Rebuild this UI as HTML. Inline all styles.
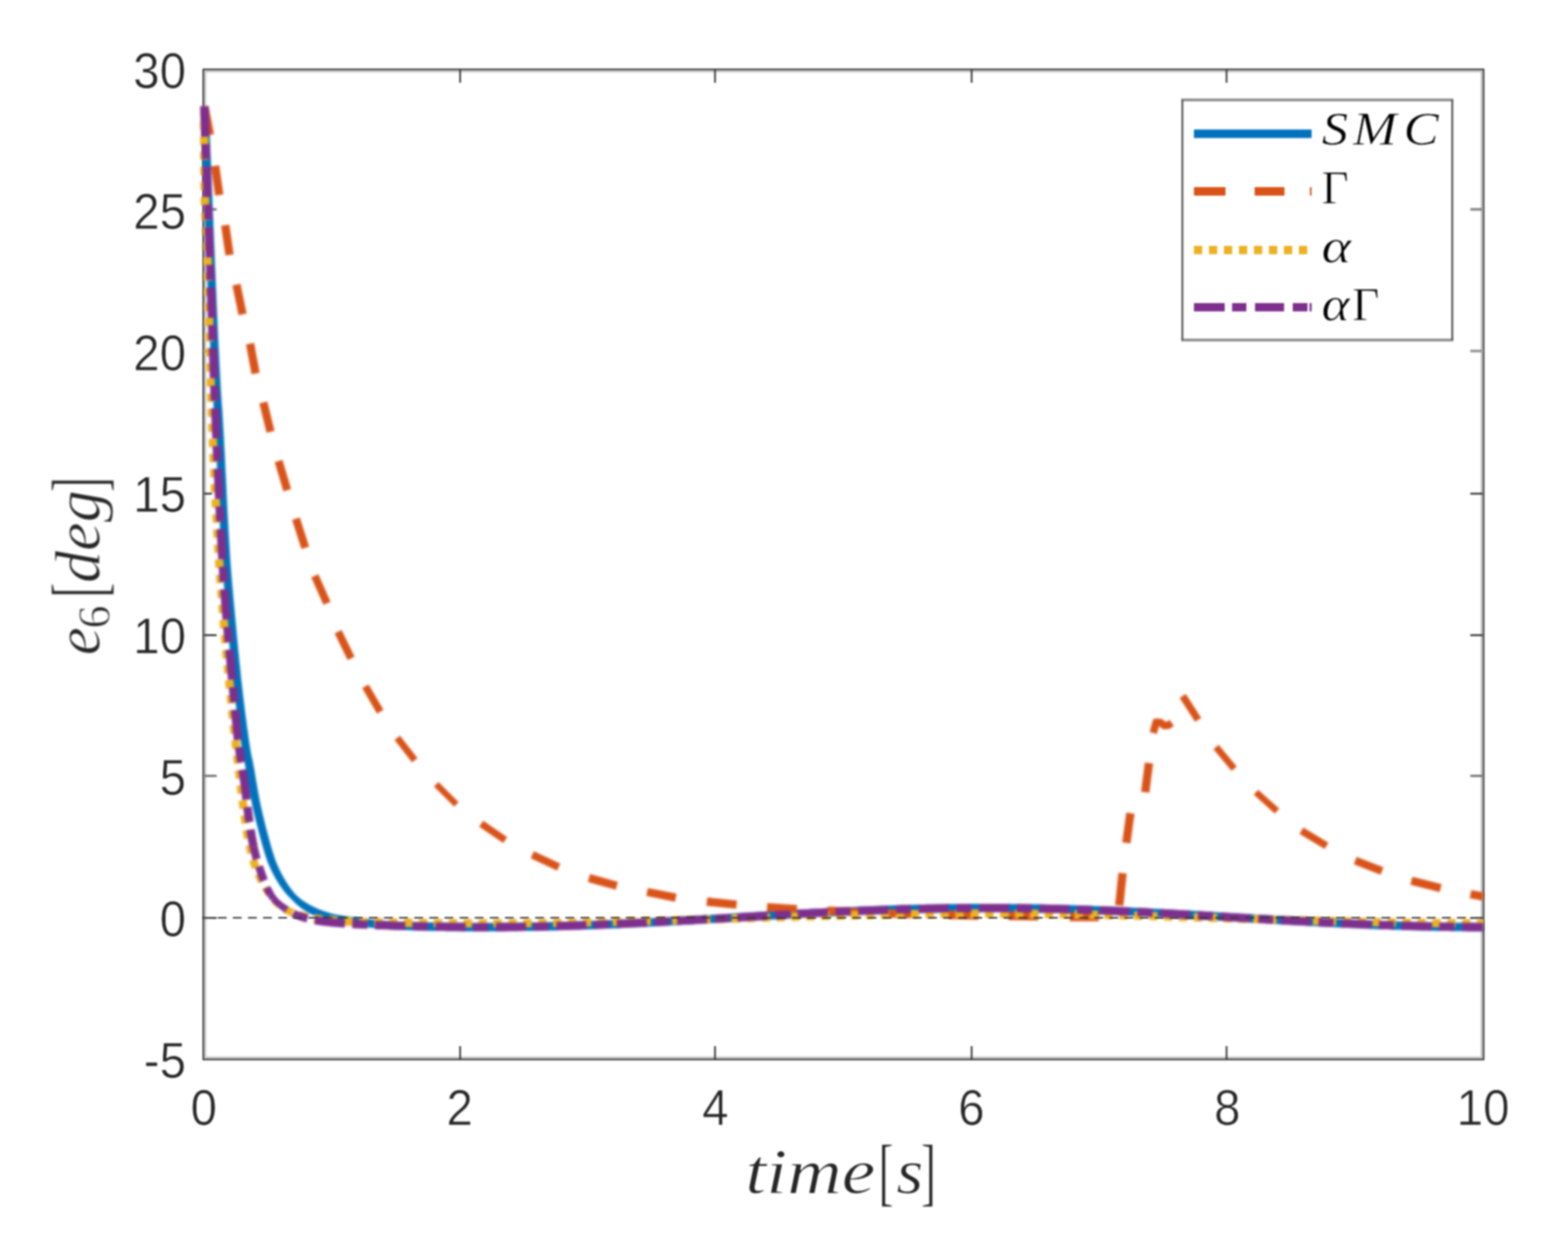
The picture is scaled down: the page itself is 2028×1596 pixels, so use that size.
<!DOCTYPE html>
<html lang="en"><head><meta charset="utf-8"><title>e6 tracking error</title>
<style>
html,body{margin:0;padding:0;background:#fff;}
body{width:2028px;height:1596px;overflow:hidden;}
svg{display:block;}
</style></head><body>
<svg width="2028" height="1596" viewBox="0 0 2028 1596">
<defs>
<filter id="soft" x="0" y="0" width="2028" height="1596" filterUnits="userSpaceOnUse" color-interpolation-filters="sRGB"><feGaussianBlur stdDeviation="1.25"/></filter>
<filter id="soft2" x="0" y="0" width="2028" height="1596" filterUnits="userSpaceOnUse" color-interpolation-filters="sRGB"><feGaussianBlur stdDeviation="1.0"/></filter>
<filter id="crisp" x="0" y="0" width="2028" height="1596" filterUnits="userSpaceOnUse" color-interpolation-filters="sRGB"><feGaussianBlur stdDeviation="0.9"/></filter>
<clipPath id="ax"><rect x="255.0" y="89.8" width="1663.8" height="1280.4"/></clipPath>
</defs>
<rect width="2028" height="1596" fill="#fff"/>
<g id="axes-halo" filter="url(#soft)" fill="none">
<rect x="265.3" y="92.1" width="1651.2" height="1275.8" stroke="#c8c8c8" stroke-width="3.0"/>
</g>
<g id="axes" filter="url(#crisp)" fill="none">
<rect x="263.0" y="89.8" width="1655.8" height="1280.4" stroke="#363636" stroke-width="2.1"/>
<path d="M595.1,1370.2 v-17.2 M595.1,89.8 v17.2" stroke="#363636" stroke-width="2.2"/>
<path d="M924.8,1370.2 v-17.2 M924.8,89.8 v17.2" stroke="#363636" stroke-width="2.2"/>
<path d="M1256.7,1370.2 v-17.2 M1256.7,89.8 v17.2" stroke="#363636" stroke-width="2.2"/>
<path d="M1586.4,1370.2 v-17.2 M1586.4,89.8 v17.2" stroke="#363636" stroke-width="2.2"/>
</g>
<g id="plot" filter="url(#soft)">
<g id="yticks-soft" fill="none">
<path d="M263.0,270.7 h17.2 M1918.8,270.7 h-17.2" stroke="#8a8a8a" stroke-width="3.4"/>
<path d="M263.0,454.0 h17.2 M1918.8,454.0 h-17.2" stroke="#969696" stroke-width="3.6"/>
<path d="M263.0,1003.5 h17.2 M1918.8,1003.5 h-17.2" stroke="#7a7a7a" stroke-width="3.0"/>
</g>
<g id="curves-soft" filter="url(#soft2)">
<g id="curves" clip-path="url(#ax)" fill="none" stroke-width="10.8" stroke-linejoin="round">
<path d="M269.8,137.5 L270.1,144.0 L270.4,150.4 L270.6,156.9 L270.9,163.4 L271.2,169.9 L271.4,176.3 L271.7,182.8 L272.0,189.3 L272.2,195.8 L272.5,202.2 L272.8,208.7 L273.0,215.2 L273.3,221.7 L273.5,228.1 L273.8,234.6 L274.0,241.1 L274.3,247.5 L274.6,254.0 L274.8,260.5 L275.1,267.0 L275.3,273.4 L275.6,279.9 L275.9,286.4 L276.1,292.9 L276.4,299.3 L276.7,305.8 L276.9,312.3 L277.2,318.8 L277.5,325.2 L277.7,331.7 L278.0,338.2 L278.2,344.7 L278.5,351.1 L278.8,357.6 L279.0,364.1 L279.3,370.5 L279.6,377.0 L279.9,383.5 L280.1,390.0 L280.4,396.4 L280.7,402.9 L281.0,409.4 L281.3,415.9 L281.5,422.3 L281.8,428.8 L282.1,435.3 L282.4,441.7 L282.7,448.2 L283.1,454.7 L283.4,461.2 L283.7,467.6 L284.0,474.1 L284.4,480.6 L284.7,487.0 L285.1,493.5 L285.4,500.0 L285.8,506.4 L286.2,512.9 L286.6,519.4 L287.1,525.8 L287.6,532.3 L288.0,538.8 L288.4,545.2 L288.7,551.7 L289.1,558.2 L289.5,564.6 L289.8,571.1 L290.1,577.6 L290.5,584.0 L290.8,590.5 L291.1,597.0 L291.4,603.5 L291.7,609.9 L292.1,616.4 L292.4,622.9 L292.7,629.3 L293.0,635.8 L293.3,642.3 L293.6,648.8 L293.9,655.2 L294.2,661.7 L294.6,668.2 L294.9,674.6 L295.3,681.1 L295.6,687.6 L296.0,694.1 L296.4,700.5 L296.8,707.0 L297.2,713.4 L297.6,719.9 L298.0,726.4 L298.5,732.8 L299.0,739.3 L299.5,745.8 L300.1,752.2 L300.6,758.7 L301.2,765.1 L301.7,771.6 L302.3,778.0 L302.9,784.5 L303.5,790.9 L304.1,797.4 L304.7,803.8 L305.3,810.3 L305.9,816.8 L306.5,823.2 L307.1,829.7 L307.7,836.1 L308.3,842.6 L309.0,849.0 L309.6,855.5 L310.3,862.0 L311.0,868.4 L311.6,874.9 L312.3,881.3 L313.1,887.7 L313.8,894.2 L314.5,900.6 L315.3,907.1 L316.1,913.5 L316.9,919.9 L317.7,926.3 L318.6,932.8 L319.4,939.2 L320.3,945.6 L321.2,952.0 L322.1,958.4 L323.1,964.8 L324.1,971.2 L325.3,977.5 L326.7,983.9 L327.9,990.2 L329.1,996.6 L330.2,1003.0 L331.2,1009.4 L332.3,1015.8 L333.4,1022.2 L334.6,1028.5 L335.8,1034.9 L337.1,1041.2 L338.5,1047.6 L340.0,1053.9 L341.5,1060.2 L343.0,1066.5 L344.6,1072.8 L346.3,1079.0 L348.0,1085.3 L349.7,1091.5 L351.5,1097.8 L353.4,1104.0 L355.4,1110.2 L357.7,1116.2 L360.2,1122.1 L363.0,1128.0 L366.1,1133.8 L369.5,1139.4 L373.0,1144.9 L376.7,1150.1 L380.8,1155.2 L385.3,1160.0 L384.2,1158.7 L389.2,1162.9 L394.6,1166.7 L400.1,1170.1 L405.9,1173.1 L411.8,1175.7 L417.9,1178.0 L424.1,1180.1 L430.3,1181.9 L436.6,1183.2 L443.0,1184.3 L449.4,1185.3 L455.9,1186.1 L462.3,1186.9 L468.7,1187.7 L475.2,1188.5 L481.6,1189.3 L488.1,1190.0 L494.5,1190.6 L501.0,1191.2 L507.4,1191.7 L513.9,1192.0 L520.4,1192.1 L526.8,1192.3 L533.3,1192.5 L539.8,1192.6 L546.3,1192.8 L552.7,1192.9 L559.2,1193.1 L565.7,1193.2 L572.2,1193.3 L578.7,1193.4 L585.1,1193.5 L591.6,1193.5 L598.1,1193.6 L604.6,1193.6 L611.1,1193.7 L617.5,1193.7 L624.0,1193.7 L630.5,1193.7 L637.0,1193.7 L643.4,1193.6 L649.9,1193.6 L656.4,1193.5 L662.9,1193.5 L669.4,1193.4 L675.8,1193.3 L682.3,1193.2 L688.8,1193.1 L695.3,1193.0 L701.7,1192.9 L708.2,1192.7 L714.7,1192.6 L721.2,1192.4 L727.7,1192.2 L734.1,1192.0 L740.6,1191.8 L747.1,1191.6 L753.6,1191.4 L760.0,1191.2 L766.5,1190.9 L773.0,1190.7 L779.5,1190.4 L785.9,1190.1 L792.4,1189.9 L798.9,1189.6 L805.3,1189.3 L811.8,1189.0 L818.3,1188.7 L824.8,1188.4 L831.2,1188.1 L837.7,1187.7 L844.2,1187.4 L850.6,1187.1 L857.1,1186.7 L863.6,1186.4 L870.0,1186.0 L876.5,1185.6 L883.0,1185.3 L889.5,1184.9 L895.9,1184.5 L902.4,1184.2 L908.9,1183.8 L915.3,1183.4 L921.8,1183.0 L928.3,1182.7 L934.7,1182.3 L941.2,1181.9 L947.7,1181.5 L954.1,1181.1 L960.6,1180.7 L967.1,1180.3 L973.5,1180.0 L980.0,1179.6 L986.5,1179.2 L992.9,1178.8 L999.4,1178.4 L1005.9,1178.1 L1012.3,1177.7 L1018.8,1177.3 L1025.3,1177.0 L1031.7,1176.6 L1038.2,1176.2 L1044.7,1175.9 L1051.2,1175.6 L1057.6,1175.2 L1064.1,1174.9 L1070.6,1174.6 L1077.0,1174.2 L1083.5,1173.9 L1090.0,1173.6 L1096.4,1173.3 L1102.9,1173.0 L1109.4,1172.8 L1115.9,1172.5 L1122.3,1172.2 L1128.8,1172.0 L1135.3,1171.7 L1141.8,1171.5 L1148.2,1171.3 L1154.7,1171.0 L1161.2,1170.8 L1167.7,1170.6 L1174.1,1170.4 L1180.6,1170.3 L1187.1,1170.1 L1193.6,1169.9 L1200.0,1169.8 L1206.5,1169.7 L1213.0,1169.6 L1219.5,1169.4 L1226.0,1169.3 L1232.4,1169.3 L1238.9,1169.2 L1245.4,1169.1 L1251.9,1169.1 L1258.3,1169.0 L1264.8,1169.0 L1271.3,1169.0 L1277.8,1169.0 L1284.3,1169.0 L1290.7,1169.0 L1297.2,1169.1 L1303.7,1169.1 L1310.2,1169.2 L1316.7,1169.2 L1323.1,1169.3 L1329.6,1169.4 L1336.1,1169.5 L1342.6,1169.6 L1349.0,1169.8 L1355.5,1169.9 L1362.0,1170.1 L1368.5,1170.2 L1375.0,1170.4 L1381.4,1170.6 L1387.9,1170.8 L1394.4,1171.0 L1400.9,1171.2 L1407.3,1171.4 L1413.8,1171.7 L1420.3,1171.9 L1426.8,1172.2 L1433.2,1172.4 L1439.7,1172.7 L1446.2,1173.0 L1452.6,1173.3 L1459.1,1173.6 L1465.6,1173.9 L1472.1,1174.2 L1478.5,1174.5 L1485.0,1174.8 L1491.5,1175.2 L1497.9,1175.5 L1504.4,1175.8 L1510.9,1176.2 L1517.3,1176.5 L1523.8,1176.9 L1530.3,1177.3 L1536.8,1177.6 L1543.2,1178.0 L1549.7,1178.4 L1556.2,1178.7 L1562.6,1179.1 L1569.1,1179.5 L1575.6,1179.9 L1582.0,1180.3 L1588.5,1180.7 L1595.0,1181.0 L1601.4,1181.4 L1607.9,1181.8 L1614.4,1182.2 L1620.8,1182.6 L1627.3,1183.0 L1633.8,1183.3 L1640.2,1183.7 L1646.7,1184.1 L1653.2,1184.5 L1659.6,1184.8 L1666.1,1185.2 L1672.6,1185.6 L1679.0,1185.9 L1685.5,1186.3 L1692.0,1186.6 L1698.4,1187.0 L1704.9,1187.3 L1711.4,1187.7 L1717.9,1188.0 L1724.3,1188.3 L1730.8,1188.6 L1737.3,1188.9 L1743.7,1189.2 L1750.2,1189.5 L1756.7,1189.8 L1763.2,1190.1 L1769.6,1190.4 L1776.1,1190.6 L1782.6,1190.9 L1789.1,1191.1 L1795.5,1191.3 L1802.0,1191.6 L1808.5,1191.8 L1815.0,1192.0 L1821.4,1192.2 L1827.9,1192.4 L1834.4,1192.5 L1840.9,1192.7 L1847.3,1192.8 L1853.8,1193.0 L1860.3,1193.1 L1866.8,1193.2 L1873.3,1193.3 L1879.7,1193.4 L1886.2,1193.5 L1892.7,1193.5 L1899.2,1193.6 L1905.6,1193.6 L1912.1,1193.7 L1918.6,1193.7 L1918.6,1204.5 L1912.1,1204.5 L1905.6,1204.4 L1899.2,1204.4 L1892.7,1204.3 L1886.2,1204.3 L1879.7,1204.2 L1873.3,1204.1 L1866.8,1204.0 L1860.3,1203.9 L1853.8,1203.8 L1847.3,1203.6 L1840.9,1203.5 L1834.4,1203.3 L1827.9,1203.2 L1821.4,1203.0 L1815.0,1202.8 L1808.5,1202.6 L1802.0,1202.4 L1795.5,1202.1 L1789.1,1201.9 L1782.6,1201.7 L1776.1,1201.4 L1769.6,1201.2 L1763.2,1200.9 L1756.7,1200.6 L1750.2,1200.3 L1743.7,1200.0 L1737.3,1199.7 L1730.8,1199.4 L1724.3,1199.1 L1717.9,1198.8 L1711.4,1198.5 L1704.9,1198.1 L1698.4,1197.8 L1692.0,1197.5 L1685.5,1197.1 L1679.0,1196.7 L1672.6,1196.4 L1666.1,1196.0 L1659.6,1195.7 L1653.2,1195.3 L1646.7,1194.9 L1640.2,1194.5 L1633.8,1194.1 L1627.3,1193.8 L1620.8,1193.4 L1614.4,1193.0 L1607.9,1192.6 L1601.4,1192.2 L1595.0,1191.8 L1588.5,1191.5 L1582.0,1191.1 L1575.6,1190.7 L1569.1,1190.3 L1562.6,1189.9 L1556.2,1189.5 L1549.7,1189.2 L1543.2,1188.8 L1536.8,1188.4 L1530.3,1188.1 L1523.8,1187.7 L1517.3,1187.3 L1510.9,1187.0 L1504.4,1186.6 L1497.9,1186.3 L1491.5,1186.0 L1485.0,1185.6 L1478.5,1185.3 L1472.1,1185.0 L1465.6,1184.7 L1459.1,1184.4 L1452.6,1184.1 L1446.2,1183.8 L1439.7,1183.5 L1433.2,1183.2 L1426.8,1183.0 L1420.3,1182.7 L1413.8,1182.5 L1407.3,1182.2 L1400.9,1182.0 L1394.4,1181.8 L1387.9,1181.6 L1381.4,1181.4 L1375.0,1181.2 L1368.5,1181.0 L1362.0,1180.9 L1355.5,1180.7 L1349.0,1180.6 L1342.6,1180.5 L1336.1,1180.3 L1329.6,1180.2 L1323.1,1180.1 L1316.7,1180.0 L1310.2,1180.0 L1303.7,1179.9 L1297.2,1179.9 L1290.7,1179.8 L1284.3,1179.8 L1277.8,1179.8 L1271.3,1179.8 L1264.8,1179.8 L1258.3,1179.8 L1251.9,1179.9 L1245.4,1179.9 L1238.9,1180.0 L1232.4,1180.1 L1226.0,1180.1 L1219.5,1180.2 L1213.0,1180.4 L1206.5,1180.5 L1200.0,1180.6 L1193.6,1180.7 L1187.1,1180.9 L1180.6,1181.1 L1174.1,1181.2 L1167.7,1181.4 L1161.2,1181.6 L1154.7,1181.8 L1148.2,1182.1 L1141.8,1182.3 L1135.3,1182.5 L1128.8,1182.8 L1122.3,1183.0 L1115.9,1183.3 L1109.4,1183.6 L1102.9,1183.8 L1096.4,1184.1 L1090.0,1184.4 L1083.5,1184.7 L1077.0,1185.0 L1070.6,1185.4 L1064.1,1185.7 L1057.6,1186.0 L1051.2,1186.4 L1044.7,1186.7 L1038.2,1187.1 L1031.7,1187.4 L1025.3,1187.8 L1018.8,1188.1 L1012.3,1188.5 L1005.9,1188.9 L999.4,1189.2 L992.9,1189.6 L986.5,1190.0 L980.0,1190.4 L973.5,1190.8 L967.1,1191.1 L960.6,1191.5 L954.1,1191.9 L947.7,1192.3 L941.2,1192.7 L934.7,1193.1 L928.3,1193.5 L921.8,1193.8 L915.3,1194.2 L908.9,1194.6 L902.4,1195.0 L895.9,1195.4 L889.5,1195.7 L883.0,1196.1 L876.5,1196.5 L870.0,1196.8 L863.6,1197.2 L857.1,1197.5 L850.6,1197.9 L844.2,1198.2 L837.7,1198.5 L831.2,1198.9 L824.8,1199.2 L818.3,1199.5 L811.8,1199.8 L805.3,1200.1 L798.9,1200.4 L792.4,1200.7 L785.9,1201.0 L779.5,1201.2 L773.0,1201.5 L766.5,1201.7 L760.0,1202.0 L753.6,1202.2 L747.1,1202.4 L740.6,1202.6 L734.1,1202.8 L727.7,1203.0 L721.2,1203.2 L714.7,1203.4 L708.2,1203.5 L701.7,1203.7 L695.3,1203.8 L688.8,1203.9 L682.3,1204.0 L675.8,1204.1 L669.4,1204.2 L662.9,1204.3 L656.4,1204.3 L649.9,1204.4 L643.4,1204.4 L637.0,1204.5 L630.5,1204.5 L624.0,1204.5 L617.5,1204.5 L611.1,1204.5 L604.6,1204.4 L598.1,1204.4 L591.6,1204.3 L585.1,1204.3 L578.7,1204.2 L572.2,1204.1 L565.7,1204.0 L559.2,1203.9 L552.7,1203.7 L546.3,1203.6 L539.8,1203.4 L533.3,1203.3 L526.8,1203.1 L520.4,1202.9 L513.9,1202.8 L507.4,1202.5 L501.0,1202.0 L494.5,1201.5 L488.1,1200.8 L481.6,1200.1 L475.2,1199.3 L468.7,1198.5 L462.3,1197.7 L455.9,1196.9 L449.4,1196.1 L443.0,1195.1 L436.6,1194.0 L430.3,1192.7 L424.1,1191.0 L417.9,1189.0 L411.8,1186.7 L405.9,1184.1 L400.1,1181.2 L394.6,1177.9 L389.2,1174.2 L384.2,1170.2 L373.8,1160.0 L369.4,1155.2 L365.4,1150.1 L361.8,1144.9 L358.3,1139.4 L355.0,1133.8 L352.0,1128.0 L349.2,1122.1 L346.7,1116.2 L344.5,1110.2 L342.5,1104.0 L340.6,1097.8 L338.8,1091.5 L337.1,1085.3 L335.4,1079.0 L333.8,1072.8 L332.2,1066.5 L330.6,1060.2 L329.1,1053.9 L327.6,1047.6 L326.3,1041.2 L325.0,1034.9 L323.7,1028.5 L322.6,1022.2 L321.5,1015.8 L320.4,1009.4 L319.3,1003.0 L318.2,996.6 L317.1,990.2 L315.8,983.9 L314.5,977.5 L313.3,971.2 L312.3,964.8 L311.3,958.4 L310.4,952.0 L309.5,945.6 L308.6,939.2 L307.7,932.8 L306.9,926.3 L306.1,919.9 L305.3,913.5 L304.5,907.1 L303.7,900.6 L303.0,894.2 L302.2,887.7 L301.5,881.3 L300.8,874.9 L300.1,868.4 L299.5,862.0 L298.8,855.5 L298.2,849.0 L297.5,842.6 L296.9,836.1 L296.3,829.7 L295.7,823.2 L295.1,816.8 L294.5,810.3 L293.9,803.8 L293.3,797.4 L292.7,790.9 L292.1,784.5 L291.5,778.0 L290.9,771.6 L290.4,765.1 L289.8,758.7 L289.2,752.2 L288.7,745.8 L288.2,739.3 L287.7,732.8 L287.2,726.4 L286.8,719.9 L286.4,713.4 L286.0,707.0 L285.6,700.5 L285.2,694.1 L284.8,687.6 L284.5,681.1 L284.1,674.6 L283.8,668.2 L283.4,661.7 L283.1,655.2 L282.8,648.8 L282.5,642.3 L282.2,635.8 L281.9,629.3 L281.6,622.9 L281.2,616.4 L280.9,609.9 L280.6,603.5 L280.3,597.0 L280.0,590.5 L279.7,584.0 L279.3,577.6 L279.0,571.1 L278.7,564.6 L278.3,558.2 L277.9,551.7 L277.6,545.2 L277.2,538.8 L276.8,532.3 L276.3,525.8 L275.8,519.4 L275.4,512.9 L275.0,506.4 L274.6,500.0 L274.3,493.5 L273.9,487.0 L273.6,480.6 L273.2,474.1 L272.9,467.6 L272.6,461.2 L272.3,454.7 L271.9,448.2 L271.6,441.7 L271.3,435.3 L271.0,428.8 L270.7,422.3 L270.5,415.9 L270.2,409.4 L269.9,402.9 L269.6,396.4 L269.3,390.0 L269.1,383.5 L268.8,377.0 L268.5,370.5 L268.2,364.1 L268.0,357.6 L267.7,351.1 L267.4,344.7 L267.2,338.2 L266.9,331.7 L266.7,325.2 L266.4,318.8 L266.1,312.3 L265.9,305.8 L265.6,299.3 L265.3,292.9 L265.0,286.4 L264.8,279.9 L264.5,273.4 L264.3,267.0 L264.0,260.5 L263.8,254.0 L263.5,247.5 L263.2,241.1 L263.0,234.6 L262.7,228.1 L262.5,221.7 L262.2,215.2 L262.0,208.7 L261.7,202.2 L261.4,195.8 L261.2,189.3 L260.9,182.8 L260.6,176.3 L260.4,169.9 L260.1,163.4 L259.8,156.9 L259.5,150.4 L259.3,144.0 L259.0,137.5Z" fill="#0072BD" stroke="none"/>
<g stroke="#D95319">
<path d="M264.4,137.5 L271.5,174.5" stroke-width="10.64"/>
<path d="M278.2,214.6 L283.6,252.2" stroke-width="10.71"/>
<path d="M291.3,291.2 L296.9,329.7" stroke-width="10.71"/>
<path d="M305.8,368.2 L313.8,406.7" stroke-width="10.62"/>
<path d="M323.4,444.4 L330.6,482.9" stroke-width="10.65"/>
<path d="M340.6,520.4 L349.9,558.5" stroke-width="10.55"/>
<path d="M360.3,596.2 L371.5,633.9" stroke-width="10.44"/>
<path d="M382.8,670.8 L394.8,708.5" stroke-width="10.39"/>
<path d="M407.2,744.8 L422.9,780.2" stroke-width="10.05"/>
<path d="M437.3,817.0 L454.1,851.5" stroke-width="9.92"/>
<path d="M472.6,887.6 L491.8,920.5" stroke-width="9.61"/>
<path d="M513.8,954.2 L536.4,983.2" stroke-width="8.93"/>
<path d="M564.2,1014.3 L590.3,1040.4" stroke-width="8.18"/>
<path d="M622.4,1065.4 L653.4,1086.5" stroke-width="9.27"/>
<path d="M688.5,1105.5 L722.6,1121.6" stroke-width="9.96"/>
<path d="M761.7,1135.6 L797.8,1145.6" stroke-width="10.49"/>
<path d="M836.9,1153.6 L874.0,1161.0" stroke-width="10.63"/>
<path d="M914.2,1166.1 L952.7,1170.0" stroke-width="10.76"/>
<path d="M992.1,1173.4 L1030.6,1175.9" stroke-width="10.78"/>
<path d="M1070.5,1178.0 L1109.5,1179.6" stroke-width="10.79"/>
<path d="M1148.5,1181.3 L1187.5,1182.4" stroke-width="10.80"/>
<path d="M1226.5,1183.4 L1265.5,1184.0" stroke-width="10.80"/>
<path d="M1304.4,1184.7 L1342.9,1185.2" stroke-width="10.80"/>
<path d="M1383.6,1186.0 L1421.3,1186.2" stroke-width="10.80"/>
<path d="M1447.6,1171.0 L1451.9,1129.2" stroke-width="10.75"/>
<path d="M1456.8,1090.1 L1462.0,1051.7" stroke-width="10.72"/>
<path d="M1481.2,1024.7 L1486.0,986.8" stroke-width="10.73"/>
<path d="M1529.7,900.1 L1549.6,931.0" stroke-width="9.40"/>
<path d="M1572.8,966.1 L1596.2,994.2" stroke-width="8.75"/>
<path d="M1624.4,1024.6 L1651.6,1049.0" stroke-width="8.53"/>
<path d="M1683.2,1074.4 L1715.7,1094.0" stroke-width="9.54"/>
<path d="M1752.8,1113.1 L1787.5,1126.5" stroke-width="10.22"/>
<path d="M1825.4,1139.1 L1863.3,1148.6" stroke-width="10.54"/>
<path d="M1901.9,1156.5 L1918.6,1159.6" stroke-width="10.65"/>
<path d="M1491.6,948 L1495.3,934 L1501,934.5 L1506,938.5 L1511,938 L1515.5,935" stroke-width="9.6"/>
</g>
<path d="M264.0,137.5 L264.0,144.0 L264.0,150.6 L264.0,157.1 L264.0,163.7 L264.1,170.2 L264.1,176.7 L264.1,183.3 L264.2,189.8 L264.2,196.4 L264.3,202.9 L264.4,209.4 L264.4,216.0 L264.5,222.5 L264.6,229.0 L264.7,235.6 L264.8,242.1 L264.8,248.6 L265.0,255.1 L265.1,261.7 L265.4,268.2 L265.8,274.7 L266.3,281.2 L266.8,287.8 L267.1,294.3 L267.4,300.8 L267.6,307.4 L267.9,313.9 L268.1,320.4 L268.3,326.9 L268.5,333.5 L268.7,340.0 L268.9,346.5 L269.0,353.1 L269.2,359.6 L269.3,366.1 L269.5,372.7 L269.7,379.2 L269.8,385.7 L269.9,392.3 L270.1,398.8 L270.2,405.3 L270.4,411.9 L270.5,418.4 L270.7,425.0 L270.8,431.5 L270.9,438.0 L271.1,444.6 L271.2,451.1 L271.4,457.6 L271.6,464.2 L271.7,470.7 L271.9,477.2 L272.1,483.8 L272.3,490.3 L272.5,496.8 L272.7,503.4 L273.0,509.9 L273.2,516.4 L273.4,523.0 L273.7,529.5 L273.9,536.0 L274.2,542.6 L274.4,549.1 L274.7,555.6 L274.9,562.1 L275.2,568.7 L275.5,575.2 L275.8,581.7 L276.1,588.3 L276.4,594.8 L276.7,601.3 L277.0,607.9 L277.3,614.4 L277.6,620.9 L277.9,627.4 L278.2,634.0 L278.6,640.5 L278.9,647.0 L279.2,653.6 L279.6,660.1 L279.9,666.6 L280.3,673.1 L280.7,679.7 L281.0,686.2 L281.4,692.7 L281.8,699.2 L282.2,705.8 L282.6,712.3 L283.0,718.8 L283.4,725.3 L283.9,731.8 L284.3,738.4 L284.8,744.9 L285.2,751.4 L285.7,757.9 L286.2,764.4 L286.7,770.9 L287.2,777.5 L287.7,784.0 L288.3,790.5 L288.8,797.0 L289.3,803.5 L289.9,810.0 L290.5,816.5 L291.1,823.1 L291.6,829.6 L292.2,836.1 L292.8,842.6 L293.4,849.1 L294.1,855.6 L294.7,862.1 L295.3,868.6 L295.9,875.1 L296.6,881.6 L297.2,888.1 L297.9,894.6 L298.5,901.1 L299.2,907.6 L299.8,914.1 L300.5,920.7 L301.2,927.2 L301.8,933.7 L302.5,940.2 L303.2,946.6 L303.9,953.1 L304.7,959.6 L305.4,966.1 L306.2,972.6 L307.0,979.1 L307.8,985.6 L308.6,992.1 L309.4,998.6 L310.2,1005.1 L310.9,1011.5 L311.7,1018.0 L312.5,1024.5 L313.3,1031.0 L314.1,1037.5 L314.9,1044.0 L315.8,1050.5 L316.7,1056.9 L317.6,1063.4 L318.6,1069.9 L319.6,1076.4 L320.7,1082.8 L321.9,1089.2 L323.3,1095.6" stroke="#EDB120" stroke-width="10.80" stroke-dasharray="10.700 8.855" stroke-dashoffset="0.00"/>
<path d="M323.3,1095.6 L324.8,1102.0 L326.5,1108.3 L328.3,1114.6 L330.3,1120.8 L332.5,1127.0" stroke="#EDB120" stroke-width="10.35" stroke-dasharray="10.700 8.855" stroke-dashoffset="2.59"/>
<path d="M332.5,1127.0 L335.0,1132.9 L337.9,1138.8 L341.1,1144.6" stroke="#EDB120" stroke-width="9.90" stroke-dasharray="10.700 8.855" stroke-dashoffset="15.76"/>
<path d="M341.1,1144.6 L344.3,1150.3 L347.7,1155.9" stroke="#EDB120" stroke-width="9.45" stroke-dasharray="10.700 8.855" stroke-dashoffset="15.83"/>
<path d="M347.7,1155.9 L351.4,1161.3" stroke="#EDB120" stroke-width="9.00" stroke-dasharray="10.700 8.855" stroke-dashoffset="9.41"/>
<path d="M351.4,1161.3 L355.8,1166.1 L360.7,1170.5" stroke="#EDB120" stroke-width="8.55" stroke-dasharray="10.700 8.855" stroke-dashoffset="15.92"/>
<path d="M360.7,1170.5 L366.0,1174.2" stroke="#EDB120" stroke-width="9.00" stroke-dasharray="10.700 8.855" stroke-dashoffset="9.46"/>
<path d="M366.0,1174.2 L371.7,1177.5 L377.7,1180.1" stroke="#EDB120" stroke-width="9.90" stroke-dasharray="10.700 8.855" stroke-dashoffset="15.96"/>
<path d="M377.7,1180.1 L383.9,1182.3 L390.1,1184.2 L396.5,1185.8" stroke="#EDB120" stroke-width="10.35" stroke-dasharray="10.700 8.855" stroke-dashoffset="9.50"/>
<path d="M396.5,1185.8 L402.9,1187.0 L409.3,1188.1 L415.8,1189.0 L422.3,1189.7 L428.8,1190.3 L435.3,1190.9 L441.8,1191.3 L448.4,1191.7 L454.9,1192.0 L461.4,1192.3 L464.7,1192.4" stroke="#EDB120" stroke-width="10.80" stroke-dasharray="10.700 8.855" stroke-dashoffset="9.58"/>
<path d="M464.7,1192.4 L468.0,1192.5 L474.5,1192.7 L481.0,1192.8 L487.6,1192.9 L494.1,1193.0 L500.6,1193.1 L507.2,1193.2 L513.7,1193.3 L520.2,1193.4 L526.8,1193.5 L533.3,1193.5 L539.8,1193.6 L546.4,1193.7 L552.9,1193.8 L559.5,1193.8 L566.0,1193.9 L572.5,1193.9 L579.1,1194.0 L585.6,1194.0 L592.1,1194.1 L598.7,1194.1 L605.2,1194.1 L611.7,1194.1 L618.3,1194.1 L624.8,1194.1 L631.3,1194.1 L637.9,1194.1 L644.4,1194.1 L651.0,1194.1 L657.5,1194.1 L664.0,1194.0 L670.6,1194.0 L677.1,1194.0 L683.6,1193.9 L690.2,1193.8 L696.7,1193.8 L703.2,1193.7 L709.8,1193.6 L716.3,1193.6 L722.8,1193.5 L729.4,1193.4 L735.9,1193.3 L742.4,1193.2 L749.0,1193.1 L755.5,1193.0 L762.1,1192.8 L768.6,1192.7 L775.1,1192.6 L781.7,1192.5 L788.2,1192.3 L794.7,1192.2 L801.3,1192.0 L807.8,1191.9 L814.3,1191.7 L820.9,1191.6 L827.4,1191.4 L833.9,1191.2 L840.5,1191.1 L847.0,1190.9 L853.5,1190.7 L860.1,1190.6 L866.6,1190.4 L873.1,1190.2 L879.7,1190.0 L886.2,1189.8 L892.7,1189.6 L899.3,1189.4 L905.8,1189.3 L912.3,1189.1 L918.9,1188.9 L925.4,1188.7 L931.9,1188.5 L938.5,1188.3 L945.0,1188.1 L951.5,1187.9 L958.1,1187.7 L964.6,1187.5 L971.1,1187.3 L977.7,1187.1 L984.2,1186.9 L990.7,1186.7 L997.3,1186.5 L1003.8,1186.3 L1010.3,1186.2 L1016.9,1186.0 L1023.4,1185.8 L1029.9,1185.6 L1036.5,1185.4 L1043.0,1185.2 L1049.5,1185.1 L1056.1,1184.9 L1062.6,1184.7 L1069.1,1184.6 L1075.7,1184.4 L1082.2,1184.2 L1088.7,1184.1 L1095.3,1183.9 L1101.8,1183.8 L1108.3,1183.6 L1114.9,1183.5 L1121.4,1183.4 L1127.9,1183.2 L1134.5,1183.1 L1141.0,1183.0 L1147.5,1182.9 L1154.1,1182.7 L1160.6,1182.6 L1167.1,1182.5 L1173.7,1182.4 L1180.2,1182.4 L1186.7,1182.3 L1193.3,1182.2 L1199.8,1182.1 L1206.3,1182.1 L1212.9,1182.0 L1219.4,1181.9 L1226.0,1181.9 L1232.5,1181.8 L1239.0,1181.8 L1245.6,1181.8 L1252.1,1181.8 L1258.6,1181.7 L1265.2,1181.7 L1271.7,1181.7 L1278.2,1181.7 L1284.8,1181.7 L1291.3,1181.7 L1297.8,1181.8 L1304.4,1181.8 L1310.9,1181.8 L1317.5,1181.8 L1324.0,1181.9 L1330.5,1181.9 L1337.1,1182.0 L1343.6,1182.1 L1350.1,1182.1 L1356.7,1182.2 L1363.2,1182.3 L1369.7,1182.4 L1376.3,1182.4 L1382.8,1182.5 L1389.3,1182.6 L1395.9,1182.7 L1402.4,1182.9 L1408.9,1183.0 L1415.5,1183.1 L1422.0,1183.2 L1428.6,1183.3 L1435.1,1183.5 L1441.6,1183.6 L1448.2,1183.8 L1454.7,1183.9 L1461.2,1184.1 L1467.8,1184.2 L1474.3,1184.4 L1480.8,1184.5 L1487.4,1184.7 L1493.9,1184.9 L1500.4,1185.1 L1507.0,1185.2 L1513.5,1185.4 L1520.0,1185.6 L1526.6,1185.8 L1533.1,1186.0 L1539.6,1186.1 L1546.2,1186.3 L1552.7,1186.5 L1559.2,1186.7 L1565.8,1186.9 L1572.3,1187.1 L1578.8,1187.3 L1585.4,1187.5 L1591.9,1187.7 L1598.4,1187.9 L1605.0,1188.1 L1611.5,1188.3 L1618.0,1188.5 L1624.6,1188.7 L1631.1,1188.9 L1637.6,1189.1 L1644.2,1189.2 L1650.7,1189.4 L1657.2,1189.6 L1663.7,1189.8 L1670.3,1190.0 L1676.8,1190.2 L1683.3,1190.4 L1689.9,1190.5 L1696.4,1190.7 L1702.9,1190.9 L1709.5,1191.1 L1716.0,1191.2 L1722.6,1191.4 L1729.1,1191.6 L1735.6,1191.7 L1742.2,1191.9 L1748.7,1192.0 L1755.2,1192.2 L1761.8,1192.3 L1768.3,1192.4 L1774.8,1192.6 L1781.4,1192.7 L1787.9,1192.8 L1794.4,1193.0 L1801.0,1193.1 L1807.5,1193.2 L1814.0,1193.3 L1820.6,1193.4 L1827.1,1193.5 L1833.6,1193.6 L1840.2,1193.6 L1846.7,1193.7 L1853.2,1193.8 L1859.8,1193.8 L1866.3,1193.9 L1872.8,1194.0 L1879.4,1194.0 L1885.9,1194.0 L1892.5,1194.1 L1899.0,1194.1 L1905.5,1194.1 L1912.1,1194.1 L1918.6,1194.1" stroke="#EDB120" stroke-width="10.80" stroke-dasharray="10.700 8.578" stroke-dashoffset="0.00"/>
<path d="M264.4,137.5 L264.6,144.0 L264.8,150.6 L265.1,157.1 L265.3,163.6 L265.5,170.1 L265.7,176.7 L266.0,183.2 L266.2,189.7 L266.4,196.3 L266.6,202.8 L266.9,209.3 L267.1,215.9 L267.3,222.4 L267.6,228.9 L267.8,235.4 L268.0,242.0 L268.3,248.5 L268.5,255.0 L268.7,261.6 L269.0,268.1 L269.2,274.6 L269.4,281.1 L269.7,287.7 L269.9,294.2 L270.2,300.7 L270.4,307.3 L270.6,313.8 L270.9,320.3 L271.1,326.9 L271.3,333.4 L271.5,339.9 L271.8,346.4 L272.0,353.0 L272.2,359.5 L272.5,366.0 L272.7,372.6 L272.9,379.1 L273.1,385.6 L273.4,392.1 L273.6,398.7 L273.8,405.2 L274.1,411.7 L274.3,418.3 L274.5,424.8 L274.7,431.3 L275.0,437.9 L275.2,444.4 L275.4,450.9 L275.7,457.4 L275.9,464.0 L276.2,470.5 L276.4,477.0 L276.6,483.6 L276.9,490.1 L277.1,496.6 L277.4,503.1 L277.6,509.7 L277.9,516.2 L278.1,522.7 L278.4,529.3 L278.7,535.8 L278.9,542.3 L279.2,548.8 L279.5,555.4 L279.7,561.9 L280.0,568.4 L280.3,575.0 L280.6,581.5 L280.9,588.0 L281.2,594.5 L281.5,601.1 L281.8,607.6 L282.1,614.1 L282.4,620.6 L282.7,627.2 L283.0,633.7 L283.3,640.2 L283.6,646.8 L283.9,653.3 L284.2,659.8 L284.6,666.3 L284.9,672.9 L285.2,679.4 L285.6,685.9 L285.9,692.4 L286.3,699.0 L286.7,705.5 L287.0,712.0 L287.4,718.5 L287.8,725.0 L288.2,731.6 L288.6,738.1 L289.0,744.6 L289.4,751.1 L289.9,757.6 L290.3,764.1 L290.8,770.7 L291.3,777.2 L291.8,783.7 L292.3,790.2 L292.9,796.7 L293.4,803.2 L294.0,809.7 L294.5,816.2 L295.1,822.7 L295.7,829.3 L296.3,835.8 L296.9,842.3 L297.5,848.8 L298.1,855.3 L298.7,861.8 L299.3,868.3 L299.9,874.8 L300.5,881.3 L301.2,887.8 L301.8,894.3 L302.4,900.8 L303.0,907.3 L303.7,913.8 L304.3,920.3 L304.9,926.8 L305.5,933.4 L306.1,939.9 L306.7,946.4 L307.4,952.9 L308.1,959.4 L309.0,965.8 L309.9,972.3 L310.9,978.7 L312.0,985.2 L313.1,991.6 L314.1,998.1 L315.1,1004.6 L316.0,1011.0 L316.9,1017.5 L317.6,1024.0 L318.4,1030.5 L319.1,1037.0 L319.9,1043.5 L320.7,1049.9 L321.6,1056.4 L322.5,1062.9 L323.4,1069.4 L324.4,1075.8 L325.5,1082.3 L326.7,1088.7 L328.0,1095.1" stroke="#7E2F8E" stroke-width="10.80" stroke-dasharray="39.083 9.771 19.541 9.771" stroke-dashoffset="0.00"/>
<path d="M328.0,1095.1 L329.5,1101.4 L331.1,1107.8 L332.9,1114.1 L334.9,1120.3 L336.9,1126.5 L339.1,1132.7 L341.4,1138.9 L343.9,1145.1" stroke="#7E2F8E" stroke-width="10.35" stroke-dasharray="39.083 9.771 19.541 9.771" stroke-dashoffset="22.45"/>
<path d="M343.9,1145.1 L346.6,1151.1 L349.7,1156.7" stroke="#7E2F8E" stroke-width="9.90" stroke-dasharray="39.083 9.771 19.541 9.771" stroke-dashoffset="75.02"/>
<path d="M349.7,1156.7 L353.4,1161.8" stroke="#7E2F8E" stroke-width="9.00" stroke-dasharray="39.083 9.771 19.541 9.771" stroke-dashoffset="9.83"/>
<path d="M353.4,1161.8 L358.0,1166.6 L363.0,1171.0" stroke="#7E2F8E" stroke-width="8.55" stroke-dasharray="39.083 9.771 19.541 9.771" stroke-dashoffset="16.15"/>
<path d="M363.0,1171.0 L368.2,1174.9" stroke="#7E2F8E" stroke-width="9.00" stroke-dasharray="39.083 9.771 19.541 9.771" stroke-dashoffset="29.45"/>
<path d="M368.2,1174.9 L373.7,1178.4" stroke="#7E2F8E" stroke-width="9.45" stroke-dasharray="39.083 9.771 19.541 9.771" stroke-dashoffset="35.90"/>
<path d="M373.7,1178.4 L379.5,1181.6 L385.5,1184.2" stroke="#7E2F8E" stroke-width="9.90" stroke-dasharray="39.083 9.771 19.541 9.771" stroke-dashoffset="42.50"/>
<path d="M385.5,1184.2 L391.6,1186.3 L398.0,1188.1" stroke="#7E2F8E" stroke-width="10.35" stroke-dasharray="39.083 9.771 19.541 9.771" stroke-dashoffset="55.59"/>
<path d="M398.0,1188.1 L404.4,1189.4 L410.8,1190.6 L417.3,1191.6 L423.8,1192.5 L430.3,1193.2 L436.7,1193.7 L443.2,1194.2 L449.8,1194.6 L456.3,1195.0 L462.8,1195.3 L469.3,1195.7 L475.9,1195.9 L482.4,1196.2 L485.1,1196.3" stroke="#7E2F8E" stroke-width="10.80" stroke-dasharray="39.083 9.771 19.541 9.771" stroke-dashoffset="68.70"/>
<path d="M485.1,1196.3 L488.9,1196.5 L495.5,1196.7 L502.0,1196.9 L508.5,1197.2 L515.1,1197.4 L521.6,1197.6 L528.1,1197.7 L534.7,1197.9 L541.2,1198.1 L547.7,1198.2 L554.3,1198.4 L560.8,1198.5 L567.3,1198.6 L573.9,1198.7 L580.4,1198.8 L586.9,1198.9 L593.5,1198.9 L600.0,1199.0 L606.5,1199.0 L613.1,1199.1 L619.6,1199.1 L626.1,1199.1 L632.7,1199.1 L639.2,1199.1 L645.7,1199.0 L652.3,1199.0 L658.8,1198.9 L665.3,1198.9 L671.9,1198.8 L678.4,1198.7 L684.9,1198.6 L691.5,1198.5 L698.0,1198.3 L704.5,1198.2 L711.1,1198.0 L717.6,1197.9 L724.1,1197.7 L730.6,1197.5 L737.2,1197.3 L743.7,1197.1 L750.2,1196.9 L756.8,1196.7 L763.3,1196.4 L769.8,1196.2 L776.4,1195.9 L782.9,1195.7 L789.4,1195.4 L795.9,1195.1 L802.5,1194.8 L809.0,1194.5 L815.5,1194.2 L822.0,1193.9 L828.6,1193.6 L835.1,1193.3 L841.6,1192.9 L848.1,1192.6 L854.7,1192.2 L861.2,1191.9 L867.7,1191.5 L874.2,1191.2 L880.8,1190.8 L887.3,1190.4 L893.8,1190.1 L900.3,1189.7 L906.9,1189.3 L913.4,1188.9 L919.9,1188.5 L926.4,1188.2 L932.9,1187.8 L939.5,1187.4 L946.0,1187.0 L952.5,1186.6 L959.0,1186.2 L965.6,1185.8 L972.1,1185.4 L978.6,1185.1 L985.1,1184.7 L991.6,1184.3 L998.2,1183.9 L1004.7,1183.5 L1011.2,1183.2 L1017.7,1182.8 L1024.3,1182.4 L1030.8,1182.1 L1037.3,1181.7 L1043.8,1181.3 L1050.4,1181.0 L1056.9,1180.7 L1063.4,1180.3 L1069.9,1180.0 L1076.5,1179.7 L1083.0,1179.4 L1089.5,1179.0 L1096.0,1178.7 L1102.6,1178.5 L1109.1,1178.2 L1115.6,1177.9 L1122.1,1177.6 L1128.7,1177.4 L1135.2,1177.1 L1141.7,1176.9 L1148.3,1176.7 L1154.8,1176.4 L1161.3,1176.2 L1167.8,1176.0 L1174.4,1175.8 L1180.9,1175.7 L1187.4,1175.5 L1194.0,1175.3 L1200.5,1175.2 L1207.0,1175.1 L1213.6,1174.9 L1220.1,1174.8 L1226.6,1174.7 L1233.2,1174.7 L1239.7,1174.6 L1246.2,1174.5 L1252.8,1174.5 L1259.3,1174.4 L1265.8,1174.4 L1272.4,1174.4 L1278.9,1174.4 L1285.4,1174.4 L1292.0,1174.4 L1298.5,1174.5 L1305.0,1174.5 L1311.6,1174.6 L1318.1,1174.7 L1324.6,1174.8 L1331.2,1174.9 L1337.7,1175.0 L1344.2,1175.1 L1350.8,1175.2 L1357.3,1175.4 L1363.8,1175.5 L1370.4,1175.7 L1376.9,1175.9 L1383.4,1176.1 L1389.9,1176.3 L1396.5,1176.5 L1403.0,1176.7 L1409.5,1176.9 L1416.1,1177.2 L1422.6,1177.4 L1429.1,1177.7 L1435.7,1177.9 L1442.2,1178.2 L1448.7,1178.5 L1455.2,1178.8 L1461.8,1179.1 L1468.3,1179.4 L1474.8,1179.7 L1481.3,1180.0 L1487.9,1180.4 L1494.4,1180.7 L1500.9,1181.1 L1507.4,1181.4 L1514.0,1181.8 L1520.5,1182.1 L1527.0,1182.5 L1533.5,1182.8 L1540.1,1183.2 L1546.6,1183.6 L1553.1,1184.0 L1559.6,1184.3 L1566.1,1184.7 L1572.7,1185.1 L1579.2,1185.5 L1585.7,1185.9 L1592.2,1186.3 L1598.8,1186.7 L1605.3,1187.1 L1611.8,1187.4 L1618.3,1187.8 L1624.8,1188.2 L1631.4,1188.6 L1637.9,1189.0 L1644.4,1189.4 L1650.9,1189.8 L1657.5,1190.1 L1664.0,1190.5 L1670.5,1190.9 L1677.0,1191.2 L1683.5,1191.6 L1690.1,1191.9 L1696.6,1192.3 L1703.1,1192.6 L1709.6,1193.0 L1716.2,1193.3 L1722.7,1193.6 L1729.2,1194.0 L1735.7,1194.3 L1742.3,1194.6 L1748.8,1194.9 L1755.3,1195.2 L1761.8,1195.4 L1768.4,1195.7 L1774.9,1196.0 L1781.4,1196.2 L1788.0,1196.5 L1794.5,1196.7 L1801.0,1196.9 L1807.6,1197.2 L1814.1,1197.4 L1820.6,1197.5 L1827.1,1197.7 L1833.7,1197.9 L1840.2,1198.1 L1846.7,1198.2 L1853.3,1198.4 L1859.8,1198.5 L1866.3,1198.6 L1872.9,1198.7 L1879.4,1198.8 L1885.9,1198.9 L1892.5,1198.9 L1899.0,1199.0 L1905.5,1199.0 L1912.1,1199.1 L1918.6,1199.1" stroke="#7E2F8E" stroke-width="10.80" stroke-dasharray="39.082 9.771 19.541 9.771" stroke-dashoffset="0.00"/>
</g>
</g>
<g id="ticklabels" font-family="'Liberation Sans', Arial, sans-serif" font-size="62" fill="#262626" stroke="#fff" stroke-width="0.7">
<text transform="translate(263.6,1454.7) scale(0.99,1.035)" text-anchor="middle">0</text>
<text transform="translate(594.5,1454.7) scale(0.99,1.035)" text-anchor="middle">2</text>
<text transform="translate(925.4,1454.7) scale(0.99,1.035)" text-anchor="middle">4</text>
<text transform="translate(1256.4,1454.7) scale(0.99,1.035)" text-anchor="middle">6</text>
<text transform="translate(1587.3,1454.7) scale(0.99,1.035)" text-anchor="middle">8</text>
<text transform="translate(1918.2,1454.7) scale(0.99,1.035)" text-anchor="middle">10</text>
<text transform="translate(240.6,1393.8) scale(0.99,1.035)" text-anchor="end">-5</text>
<text transform="translate(240.6,1210.9) scale(0.99,1.035)" text-anchor="end">0</text>
<text transform="translate(240.6,1028.0) scale(0.99,1.035)" text-anchor="end">5</text>
<text transform="translate(240.6,845.1) scale(0.99,1.035)" text-anchor="end">10</text>
<text transform="translate(240.6,662.2) scale(0.99,1.035)" text-anchor="end">15</text>
<text transform="translate(240.6,479.3) scale(0.99,1.035)" text-anchor="end">20</text>
<text transform="translate(240.6,296.4) scale(0.99,1.035)" text-anchor="end">25</text>
<text transform="translate(240.6,113.5) scale(0.99,1.035)" text-anchor="end">30</text>
</g>
<g id="labels" font-family="'Liberation Serif', serif" font-size="82" fill="#262626" stroke="#fff" stroke-width="1.0">
<text y="1543.2"><tspan x="964" font-style="italic" textLength="168" lengthAdjust="spacingAndGlyphs">time</tspan><tspan x="1136.2" dy="4.9" font-size="98" textLength="19.5" lengthAdjust="spacingAndGlyphs">[</tspan><tspan x="1159.2" dy="-4.9" font-style="italic" textLength="35" lengthAdjust="spacingAndGlyphs">s</tspan><tspan x="1191" dy="4.9" font-size="98" textLength="19.5" lengthAdjust="spacingAndGlyphs">]</tspan></text>
<text transform="translate(128.4,847.5) rotate(-90)"><tspan x="0" font-style="italic">e</tspan><tspan x="34.5" dy="13" font-size="60">6</tspan><tspan x="74.5" dy="-7.5" font-size="98" textLength="19.5" lengthAdjust="spacingAndGlyphs">[</tspan><tspan x="93.5" dy="-5.5" font-style="italic" textLength="120" lengthAdjust="spacingAndGlyphs">deg</tspan><tspan x="211" dy="5.5" font-size="98" textLength="19.5" lengthAdjust="spacingAndGlyphs">]</tspan></text>
</g>
<g id="legend">
<rect x="1529.2" y="129.2" width="349.1" height="310.6" fill="#fff" stroke="none"/>
<path d="M1527.7,129.2 H1879.8 M1527.7,439.8 H1879.8" stroke="#8a8a8a" stroke-width="3.6" fill="none"/>
<path d="M1529.2,129.2 V439.8 M1878.3,129.2 V439.8" stroke="#505050" stroke-width="2.4" fill="none"/>
<g fill="none" stroke-width="10.8">
<path d="M1544.2,173 H1696.4" stroke="#0072BD"/>
<path d="M1544.2,247.5 H1585 M1622.7,247.5 H1661.3 M1694.2,247.5 H1696.4" stroke="#D95319"/>
<path d="M1544.2,323.3 H1696.4" stroke="#EDB120" stroke-dasharray="10.7 8.7"/>
<path d="M1544.2,397.3 H1584 M1593.5,397.3 H1612 M1623.2,397.3 H1660.8 M1672,397.3 H1691 M1693.7,397.3 H1696.4" stroke="#7E2F8E"/>
</g>
<g font-family="'Liberation Serif', serif" font-size="60.5" fill="#000" stroke="#fff" stroke-width="0.7">
<text transform="translate(1709.6,186.6) scale(1.13,1)" x="0 35.6 93.6" font-style="italic">SMC</text>
<text y="263" x="1709.3">Γ</text>
<text transform="translate(1709.2,338.6) scale(1.2,1)" font-style="italic">α</text>
<text y="413.6"><tspan x="1709.2" font-style="italic" textLength="36.3" lengthAdjust="spacingAndGlyphs">α</tspan><tspan x="1749">Γ</tspan></text>
</g>
</g>
</g>
<g id="crisp-layer" filter="url(#crisp)" fill="none">
<path d="M264.0,638.4 h10.0 M1917.8,638.4 h-16.2" stroke="#111" stroke-width="2.0"/>
<path d="M264.0,821.4 h16.2 M1917.8,821.4 h-16.2" stroke="#111" stroke-width="2.0"/>
<path d="M264.0,1187.3 h16.2 M1917.8,1187.3 h-16.2" stroke="#111" stroke-width="2.0"/>
<path d="M262.1,1187.0 H1918.8" stroke="#3a3a3a" stroke-width="1.8" stroke-dasharray="11.4 8.146"/>
</g>
</svg>
</body></html>
